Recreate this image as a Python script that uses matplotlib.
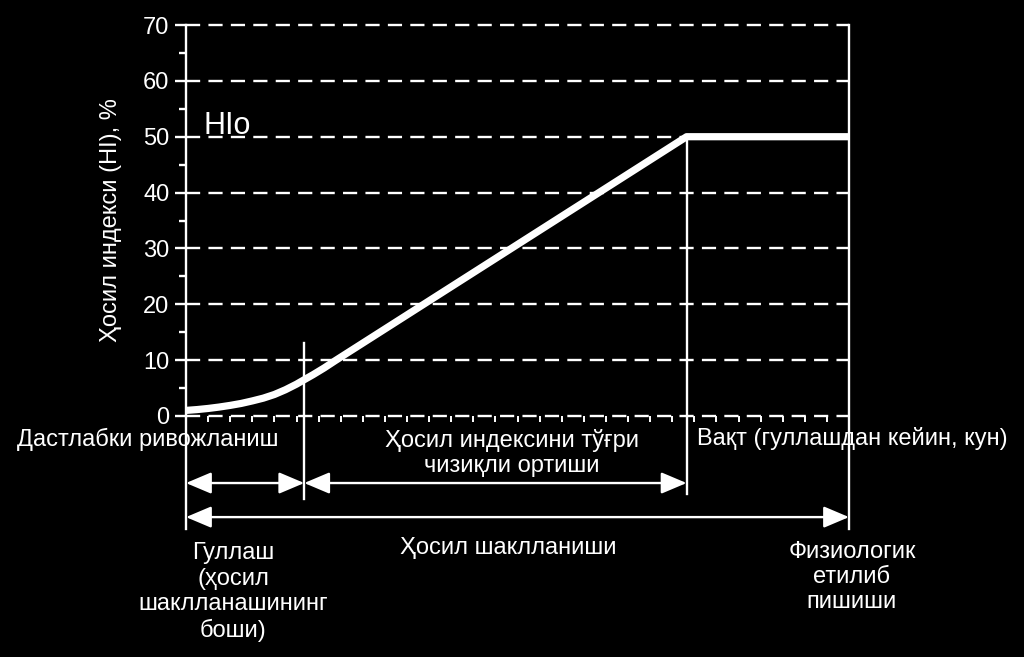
import matplotlib
matplotlib.use("Agg")
import matplotlib.pyplot as plt
from matplotlib.patches import ArrowStyle

plt.rcParams["font.family"] = ["Liberation Sans", "DejaVu Sans"]

# --- data ---
days = [0, 1, 2, 3, 4, 5, 6, 7, 8, 9, 10, 10.7, 11.5, 12.5, 13.5, 45.3, 60]
hi = [1.0, 1.15, 1.35, 1.6, 1.9, 2.25, 2.7, 3.2, 3.85, 4.7, 5.7, 6.5, 7.4, 8.6, 9.9, 50, 50]
t_flower = 0
t_linear = 10.7
t_plateau = 45.3
t_mature = 60
y_ticks = [0, 10, 20, 30, 40, 50, 60, 70]

ylabel = "Ҳосил индекси (HI), %"
hio_label = "HIo"
lbl_early = "Дастлабки ривожланиш"
lbl_linear = "Ҳосил индексини тўғри\nчизиқли ортиши"
lbl_time = "Вақт (гуллашдан кейин, кун)"
lbl_flower = "Гуллаш\n(ҳосил\nшаклланашининг\nбоши)"
lbl_fill = "Ҳосил шаклланиши"
lbl_mature = "Физиологик\nетилиб\nпишиши"

W = "white"
FS = 17

fig = plt.figure(figsize=(10.24, 6.57), dpi=100, facecolor="black")
ax = fig.add_axes([186 / 1024, 1 - 416 / 657, 663 / 1024, 391 / 657])
ax.set_facecolor("black")
ax.set_xlim(t_flower, t_mature)
ax.set_ylim(0, 70)

# dashed grid lines
for y in y_ticks:
    ax.axhline(y, color=W, lw=1.7, ls=(0, (6, 3.5)), clip_on=False, zorder=1)

for s in ["top", "right", "bottom"]:
    ax.spines[s].set_visible(False)
ax.spines["left"].set_color(W)
ax.spines["left"].set_linewidth(1.7)

ax.set_yticks(y_ticks)
ax.set_yticks([5, 15, 25, 35, 45, 55, 65], minor=True)
ax.set_xticks([])
ax.set_xticks(range(0, 61, 2), minor=True)
ax.tick_params(axis="y", which="major", colors=W, length=8, width=1.7, labelsize=FS, pad=4)
ax.tick_params(axis="y", which="minor", colors=W, length=5, width=1.7)
ax.tick_params(axis="x", which="minor", colors=W, length=4, width=1.4, direction="out")
ax.set_ylabel(ylabel, color=W, fontsize=FS, labelpad=15)

# main curve
ax.plot(days, hi, color=W, lw=5.2, solid_capstyle="butt", solid_joinstyle="round", zorder=5)

# vertical markers
lk = dict(color=W, lw=1.7, clip_on=False, zorder=3)
ax.plot([t_flower, t_flower], [0, -20.3], **lk)
ax.plot([t_linear, t_linear], [13.1, -14.9], **lk)
ax.plot([t_plateau, t_plateau], [50, -14.0], **lk)
ax.plot([t_mature, t_mature], [70, -20.3], **lk)

ax.text(1.6, 50.5, hio_label, color=W, fontsize=22, ha="left", va="baseline")

# arrows
style = ArrowStyle("<|-|>", head_length=1.3, head_width=0.55)
ak = dict(arrowstyle=style, color=W, lw=1.7, mutation_scale=12, shrinkA=0, shrinkB=0)
for (a, b, y) in [(t_flower, t_linear, -12.0), (t_linear, t_plateau, -12.0),
                  (t_flower, t_mature, -18.1)]:
    ax.annotate("", xy=(b, y), xytext=(a, y), xycoords="data",
                arrowprops=ak, annotation_clip=False)

tk = dict(color=W, fontsize=FS, ha="center", va="center", linespacing=1.2)
fig.text(148 / 1024, 1 - 439 / 657, lbl_early, **tk)
fig.text(512 / 1024, 1 - 453 / 657, lbl_linear, **tk)
fig.text(852 / 1024, 1 - 439 / 657, lbl_time, **tk)
fig.text(233 / 1024, 1 - 592 / 657, lbl_flower, **tk)
fig.text(508 / 1024, 1 - 548 / 657, lbl_fill, **tk)
fig.text(852 / 1024, 1 - 577 / 657, lbl_mature, **tk)

fig.savefig("out.png", dpi=100, facecolor="black")
